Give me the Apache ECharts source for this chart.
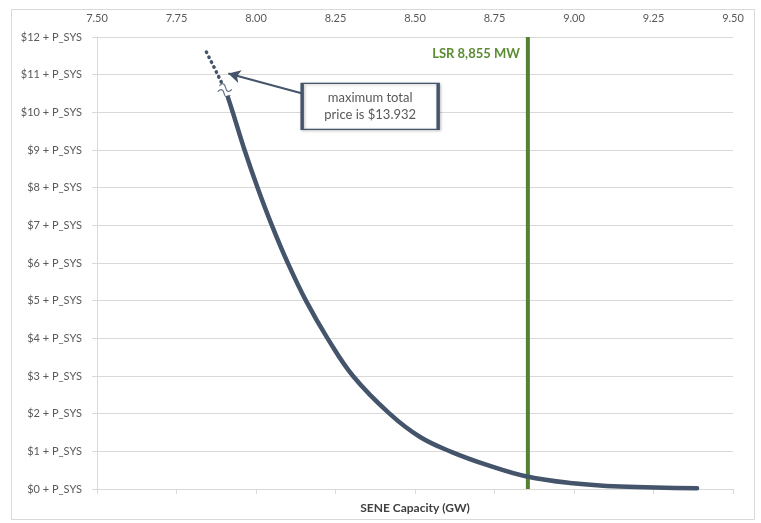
<!DOCTYPE html>
<html>
<head>
<meta charset="utf-8">
<script src="https://cdn.jsdelivr.net/npm/echarts@6/dist/echarts.min.js"></script>
<style>
html,body{margin:0;padding:0;background:#fff;}
#chart{width:761px;height:523px;}
</style>
</head>
<body>
<div id="chart"></div>
<script>
// ---- data ----
const xTicks = [7.50, 7.75, 8.00, 8.25, 8.50, 8.75, 9.00, 9.25, 9.50];
const yTicks = [0,1,2,3,4,5,6,7,8,9,10,11,12];
const capacitySolid = [7.912, 7.927, 7.964, 8.005, 8.050, 8.100, 8.157, 8.225, 8.305, 8.420, 8.516, 8.616, 8.726, 8.852, 8.987, 9.145, 9.387];
const priceSolid    = [10.39, 10.00, 9.00, 8.00, 7.00, 6.00, 5.00, 4.00, 3.00, 2.00, 1.38, 0.98, 0.64, 0.33, 0.16, 0.066, 0.02];
const capacityDotted = [7.844, 7.868, 7.891];
const priceDotted    = [11.60, 11.20, 10.80];
const breakPoint = [7.902, 10.58];
const lsrCapacity = 8.855;
const lsrLabel = 'LSR 8,855 MW';
const noteText = ['maximum total', 'price is $13.932'];
const notePos = [8.359, 10.16];
const arrowFrom = [8.146, 10.50];
const arrowTo = [7.913, 11.03];
const xName = 'SENE Capacity (GW)';

const solid = capacitySolid.map((x, i) => [x, priceSolid[i]]);
const dotted = capacityDotted.map((x, i) => [x, priceDotted[i]]);

const font = 'Lato, "Open Sans", sans-serif';
const chart = echarts.init(document.getElementById('chart'), null, {renderer: 'canvas'});

const waves = 'path://M0,4 C2,0 4,0 6,4 C8,8 10,8 12,4 M0,10 C2,6 4,6 6,10 C8,14 10,14 12,10';

chart.setOption({
  animation: false,
  backgroundColor: '#fff',
  graphic: [{
    type: 'rect', left: 11, top: 9, z: -10,
    shape: {width: 743, height: 510},
    style: {fill: '#fff', stroke: '#d9d9d9', lineWidth: 1}
  }],
  grid: {left: 97, right: 28, top: 37, bottom: 34, containLabel: false},
  xAxis: [{
    type: 'value', position: 'bottom', min: 7.5, max: 9.5, interval: 0.25,
    name: xName, nameLocation: 'middle', nameGap: 13,
    nameTextStyle: {fontFamily: font, fontSize: 12, fontWeight: 'bold', color: '#404040'},
    axisLine: {show: true, lineStyle: {color: '#d9d9d9', width: 1}},
    axisTick: {show: true, length: 5, lineStyle: {color: '#d9d9d9'}},
    axisLabel: {show: false},
    splitLine: {show: false}
  }, {
    type: 'value', position: 'top', min: 7.5, max: 9.5, interval: 0.25,
    axisLine: {show: false}, axisTick: {show: false}, splitLine: {show: false},
    axisLabel: {show: true, margin: 13, fontFamily: font, fontSize: 11, color: '#595959',
      formatter: v => { const t = xTicks.find(k => Math.abs(k - v) < 1e-6); return t === undefined ? '' : t.toFixed(2); }}
  }],
  yAxis: {
    type: 'value', min: 0, max: 12, interval: 1,
    axisLine: {show: true, lineStyle: {color: '#d9d9d9', width: 1}},
    axisTick: {show: true, length: 5, lineStyle: {color: '#d9d9d9'}},
    axisLabel: {margin: 15, fontFamily: font, fontSize: 11, color: '#595959',
      formatter: v => yTicks.includes(v) ? '$' + v + ' + P_SYS' : ''},
    splitLine: {show: true, lineStyle: {color: '#d9d9d9', width: 1}}
  },
  series: [
    {
      name: 'lsr', type: 'line', data: [[lsrCapacity, 0], [lsrCapacity, 12]],
      symbol: 'none', lineStyle: {color: '#548235', width: 4}, z: 3,
      markPoint: {
        symbol: 'circle', symbolSize: 0,
        data: [{coord: [lsrCapacity, 11.56]}],
        label: {show: true, position: 'left', distance: 8, formatter: lsrLabel,
          fontFamily: font, fontSize: 13, fontWeight: 'bold', color: '#5b8c32'}
      }
    },
    {
      name: 'price', type: 'line', data: solid, smooth: 0.4,
      symbol: 'none', lineStyle: {color: '#44546a', width: 4.5, cap: 'round'}, z: 4
    },
    {
      name: 'priceDotted', type: 'line', data: dotted, smooth: false,
      symbol: 'none', lineStyle: {color: '#44546a', width: 3.5, type: [0.5, 5], cap: 'round'}, z: 4
    },
    {
      name: 'break', type: 'scatter', data: [breakPoint],
      symbol: waves, symbolSize: [13, 12], symbolRotate: -15,
      itemStyle: {color: 'none', borderColor: '#44546a', borderWidth: 1.2}, z: 5
    },
    {
      name: 'note', type: 'scatter', data: [], z: 6,
      markLine: {
        silent: true, symbol: ['none', 'arrow'], symbolSize: [10, 12],
        lineStyle: {color: '#44546a', width: 2, type: 'solid'},
        label: {show: false},
        data: [[{coord: arrowFrom}, {coord: arrowTo}]]
      },
      markPoint: {
        symbol: 'rect', symbolSize: [136, 46],
        itemStyle: {color: '#fff', borderColor: '#44546a', borderWidth: 2,
          shadowColor: 'rgba(0,0,0,0.25)', shadowBlur: 3, shadowOffsetX: 1, shadowOffsetY: 1},
        data: [{coord: notePos}],
        label: {show: true, position: 'inside', formatter: noteText.join('\n'),
          fontFamily: font, fontSize: 13, lineHeight: 17, color: '#595959'}
      }
    }
  ]
});
</script>
</body>
</html>
